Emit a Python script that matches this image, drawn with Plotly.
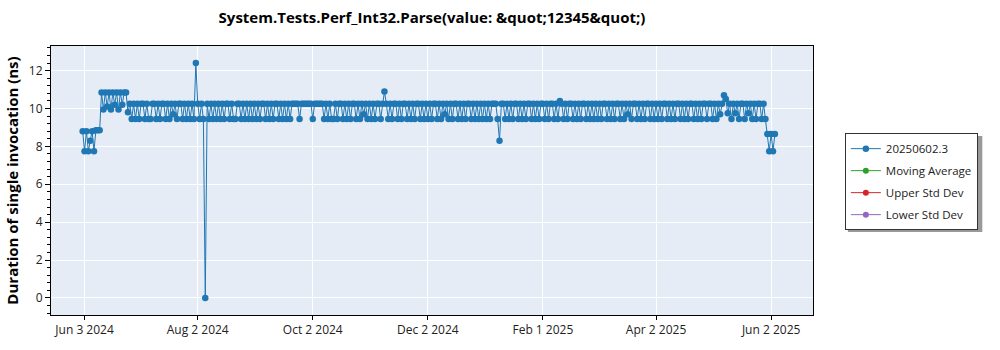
import pandas as pd
import plotly.graph_objects as go

TITLE = "System.Tests.Perf_Int32.Parse(value: &quot;12345&quot;)"
Y_TITLE = "Duration of single invocation (ns)"
SERIES_NAME = "20250602.3"
EXTRA_SERIES = ["Moving Average", "Upper Std Dev", "Lower Std Dev"]

# month start -> daily values (ns)
v_2024_06 = [8.8, 7.75, 8.8, 7.75, 8.3, 8.8, 7.75, 8.85, 8.85, 8.85, 10.85, 9.95, 10.85, 10.1, 10.85,
             9.95, 10.85, 10.2, 10.85, 9.95, 10.85, 10.2, 10.85, 10.85, 9.8, 10.25, 9.45, 10.25, 9.45]
v_2024_07 = [10.25, 9.45, 10.25, 10.25, 9.45, 10.25, 9.45, 9.45, 10.25, 10.25, 9.45, 10.25, 9.45, 10.25, 10.25,
             9.45, 10.25, 9.45, 10.25, 9.7, 10.25, 9.45, 10.25, 10.25, 9.45, 10.25, 9.45, 10.25, 9.45, 10.25, 9.45]
v_2024_08 = [12.4, 10.25, 9.45, 10.25, 9.45, 0.0, 10.25, 9.45, 10.25, 9.45, 10.25, 9.45, 10.25, 9.45, 10.25,
             9.45, 10.25, 10.25, 9.45, 10.25, 9.45, 9.45, 10.25, 10.25, 9.45, 10.25, 9.45, 10.25, 9.45, 10.25, 9.45]
v_2024_09 = [10.25, 9.45, 10.25, 9.45, 10.25, 10.25, 9.45, 10.25, 9.45, 10.25, 9.45, 10.25, 10.25, 9.45, 10.25,
             9.45, 10.25, 9.45, 10.25, 9.45, 10.25, 10.25, 10.25, 10.25, 9.45, 10.25, 10.25, 10.25, 10.25, 10.25]
v_2024_10 = [10.25, 9.45, 10.25, 10.25, 10.25, 10.25, 10.25, 9.45, 10.25, 9.45, 10.25, 9.45, 9.45, 10.25, 9.45,
             10.25, 10.25, 9.45, 10.25, 9.45, 10.25, 9.45, 10.25, 10.25, 9.45, 10.25, 9.45, 10.25, 9.7, 10.25, 9.45]
v_2024_11 = [10.25, 9.45, 10.25, 9.45, 10.25, 10.25, 9.45, 10.25, 10.9, 10.25, 9.45, 10.25, 9.45, 10.25, 10.25,
             9.45, 10.25, 9.45, 10.25, 10.25, 9.45, 10.25, 9.45, 10.25, 9.45, 10.25, 10.25, 9.45, 10.25, 9.45]
v_2024_12 = [10.25, 9.45, 10.25, 9.45, 10.25, 10.25, 9.45, 10.25, 9.45, 10.25, 9.7, 10.25, 9.45, 10.25, 9.45,
             10.25, 10.25, 9.45, 10.25, 9.45, 10.25, 9.45, 10.25, 10.25, 9.45, 10.25, 9.45, 10.25, 9.45, 10.25, 9.45]
v_2025_01 = [10.25, 9.45, 10.25, 9.45, 10.25, 10.25, 10.25, 9.45, 8.3, 10.25, 10.25, 9.45, 10.25, 9.45, 10.25,
             9.45, 10.25, 10.25, 9.45, 10.25, 9.45, 10.25, 9.45, 10.25, 10.25, 9.45, 10.25, 9.45, 10.25, 9.45, 10.25]
v_2025_02 = [10.25, 9.45, 10.25, 9.45, 10.25, 10.25, 9.45, 10.25, 9.45, 10.4, 10.25, 9.45, 10.25, 9.45, 10.25,
             10.25, 9.45, 10.25, 9.45, 10.25, 9.45, 10.25, 10.25, 9.45, 10.25, 9.45, 10.25, 9.45]
v_2025_03 = [10.25, 9.45, 10.25, 9.45, 10.25, 10.25, 9.45, 10.25, 9.45, 10.25, 9.45, 10.25, 10.25, 9.45, 10.25,
             9.45, 10.25, 9.7, 10.25, 9.45, 10.25, 10.25, 9.45, 10.25, 9.45, 10.25, 9.45, 10.25, 10.25, 9.45, 10.25]
v_2025_04 = [9.45, 10.25, 9.45, 10.25, 9.45, 10.25, 10.25, 9.45, 10.25, 9.45, 10.25, 9.45, 10.25, 10.25, 9.45,
             10.25, 9.45, 10.25, 9.45, 10.25, 10.25, 9.45, 10.25, 9.45, 10.25, 9.45, 10.25, 10.25, 9.45, 10.25]
v_2025_05 = [10.25, 9.45, 10.25, 9.45, 10.25, 9.7, 10.25, 10.7, 10.5, 9.75, 10.25, 9.45, 10.25, 9.75, 10.25,
             9.45, 10.25, 10.25, 9.45, 10.25, 9.75, 10.25, 9.45, 10.25, 9.45, 10.25, 10.25, 9.45, 10.25, 9.45, 8.65]
v_2025_06 = [7.75, 8.65, 7.75, 8.65]

month_starts = ["2024-06-02", "2024-07-01", "2024-08-01", "2024-09-01", "2024-10-01", "2024-11-01",
                "2024-12-01", "2025-01-01", "2025-02-01", "2025-03-01", "2025-04-01", "2025-05-01",
                "2025-06-01"]
month_values = [v_2024_06, v_2024_07, v_2024_08, v_2024_09, v_2024_10, v_2024_11, v_2024_12,
                v_2025_01, v_2025_02, v_2025_03, v_2025_04, v_2025_05, v_2025_06]

x_tick_vals = ["2024-06-03", "2024-08-02", "2024-10-02", "2024-12-02", "2025-02-01", "2025-04-02", "2025-06-02"]
x_tick_text = ["Jun 3 2024", "Aug 2 2024", "Oct 2 2024", "Dec 2 2024", "Feb 1 2025", "Apr 2 2025", "Jun 2 2025"]

dates, values = [], []
for start, vals in zip(month_starts, month_values):
    dates.extend(pd.date_range(start, periods=len(vals), freq="D"))
    values.extend(vals)

FONT = "Open Sans"
fig = go.Figure()
fig.add_trace(go.Scatter(x=dates, y=values, mode="lines+markers", name=SERIES_NAME,
                         line=dict(color="#1f77b4", width=1), marker=dict(size=6.5, color="#1f77b4"),
                         legendgroup="a"))
for nm, col, g in zip(EXTRA_SERIES, ["#2ca02c", "#d62728", "#9467bd"], ["b", "c", "d"]):
    fig.add_trace(go.Scatter(x=[None], y=[None], mode="lines+markers", name=nm,
                             line=dict(color=col, width=1), marker=dict(size=6, color=col),
                             legendgroup=g))

fig.update_layout(
    width=1000, height=350,
    margin=dict(l=48, r=187, t=46, b=32),
    paper_bgcolor="white", plot_bgcolor="#e5ecf6",
    font=dict(family=FONT, size=12, color="#222"),
    title=dict(text="<b>" + TITLE + "</b>", x=0.5, xref="paper", xanchor="center", y=0.95, yanchor="middle",
               font=dict(size=15, color="black", family=FONT)),
    showlegend=True,
    legend=dict(x=1.0418, y=0.676, xanchor="left", yanchor="top", bgcolor="white",
                bordercolor="#333", borderwidth=1, font=dict(size=11.5, color="#222"),
                tracegroupgap=3, itemwidth=30),
    xaxis=dict(type="date", range=["2024-05-16 05:00", "2025-06-24 05:00"], tickvals=x_tick_vals,
               ticktext=x_tick_text,
               showgrid=True, gridcolor="white", gridwidth=1, zeroline=False,
               showline=True, linecolor="black", linewidth=1, mirror=True,
               ticks="outside", ticklen=4, tickcolor="black", tickfont=dict(size=12)),
    yaxis=dict(range=[-0.9, 13.3], tickvals=[0, 2, 4, 6, 8, 10, 12],
               showgrid=True, gridcolor="white", gridwidth=1, zeroline=False,
               showline=True, linecolor="black", linewidth=1, mirror=True,
               ticks="outside", ticklen=5, tickcolor="black", tickfont=dict(size=12),
               minor=dict(dtick=0.4, tick0=0, ticks="outside", ticklen=3, tickcolor="black", showgrid=False),
               title=dict(text="<b>" + Y_TITLE + "</b>", font=dict(size=15, color="black", family=FONT), standoff=6)),
)
# legend drop shadow
fig.add_shape(type="rect", xref="paper", yref="paper", x0=1.0458, x1=1.2222, y0=0.309, y1=0.665,
              fillcolor="#999", line=dict(width=0), layer="below")
fig.write_html("out.html")
